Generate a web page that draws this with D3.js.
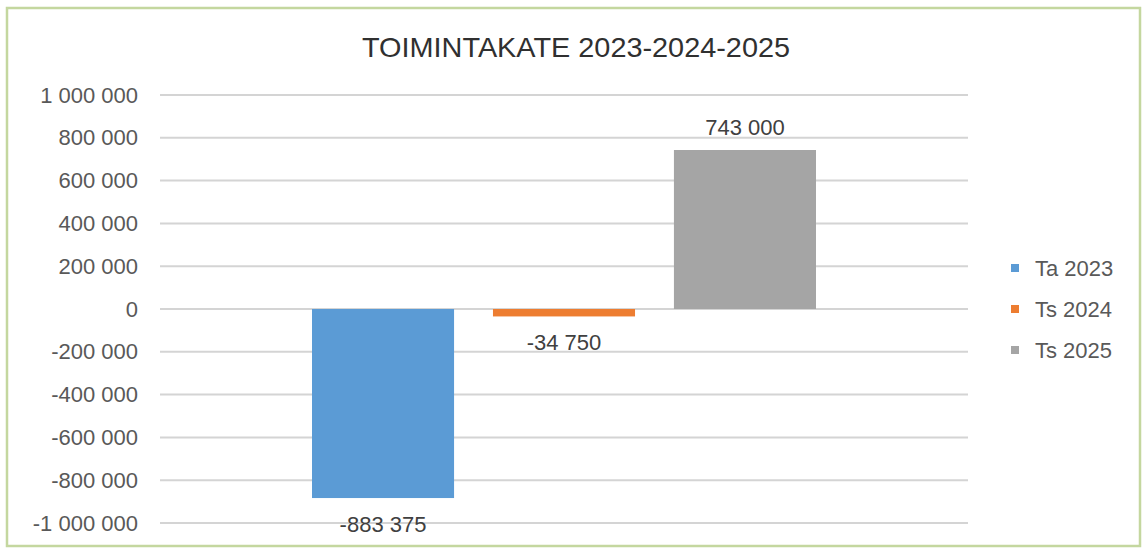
<!DOCTYPE html>
<html>
<head>
<meta charset="utf-8">
<script src="https://cdn.jsdelivr.net/npm/d3@7"></script>
<style>
  body { margin: 0; background: #fff; }
  text { font-family: "Liberation Sans", Arial, sans-serif; }
</style>
</head>
<body>
<svg id="chart"></svg>
<script>
// Chart data
const series = ["Ta 2023", "Ts 2024", "Ts 2025"]
const values = [-883375, -34750, 743000]
const labels = ["-883 375", "-34 750", "743 000"]
const colors = ["#5B9BD5", "#ED7D31", "#A5A5A5"]
const yTicks = [-1000000, -800000, -600000, -400000, -200000, 0, 200000, 400000, 600000, 800000, 1000000]
const title = "TOIMINTAKATE 2023-2024-2025"

// Size
var svgWidth = 1144, svgHeight = 551
var plotLeft = 160, plotRight = 968, plotTop = 95, plotBottom = 523

var svg = d3.select('#chart')
    .attr("width", svgWidth)
    .attr("height", svgHeight)

// outer frame
svg.append("rect")
    .attr("x", 7).attr("y", 8)
    .attr("width", 1133).attr("height", 538)
    .attr("fill", "#fff")
    .attr("stroke", "#c4d79f")
    .attr("stroke-width", 2.5)

// title
svg.append("text")
    .attr("x", 576).attr("y", 57)
    .attr("text-anchor", "middle")
    .attr("textLength", 428)
    .attr("lengthAdjust", "spacingAndGlyphs")
    .style("font-family", "'Liberation Sans Narrow', 'Liberation Sans', sans-serif")
    .style("font-size", "28px")
    .attr("fill", "#303030")
    .text(title)

var y = d3.scaleLinear()
    .domain([-1000000, 1000000])
    .range([plotBottom, plotTop])

var x = d3.scaleBand()
    .domain(series)
    .range([312, 816])
    .paddingInner(0.215)

// grid lines
svg.append("g").selectAll("line")
    .data(yTicks)
    .enter()
    .append("line")
    .attr("x1", plotLeft).attr("x2", plotRight)
    .attr("y1", d => y(d)).attr("y2", d => y(d))
    .attr("stroke", "#d4d4d4")
    .attr("stroke-width", 2)

// y axis
var fmt = (d) => d3.format(",")(d).replace(/,/g, " ").replace("\u2212", "-")
var yAxis = svg.append("g")
    .attr("transform", "translate(" + (plotLeft - 22) + ",0)")
    .call(d3.axisLeft(y).tickValues(yTicks).tickSize(0).tickPadding(0).tickFormat(fmt))
yAxis.select(".domain").remove()
yAxis.selectAll("text")
    .style("font-size", "22px")
    .style("font-family", "'Liberation Sans', Arial, sans-serif")
    .attr("fill", "#595959")

// bars
svg.append("g").selectAll("rect")
    .data(values)
    .enter()
    .append("rect")
    .attr("x", (d, i) => x(series[i]))
    .attr("width", x.bandwidth())
    .attr("y", d => Math.min(y(d), y(0)))
    .attr("height", d => Math.abs(y(d) - y(0)))
    .attr("fill", (d, i) => colors[i])

// data labels
svg.append("g").selectAll("text")
    .data(values)
    .enter()
    .append("text")
    .attr("x", (d, i) => x(series[i]) + x.bandwidth() / 2)
    .attr("y", d => d < 0 ? y(d) + 34 : y(d) - 15)
    .attr("text-anchor", "middle")
    .style("font-size", "22px")
    .attr("fill", "#404040")
    .text((d, i) => labels[i])

// legend
var legend = svg.append("g").selectAll("g")
    .data(series)
    .enter()
    .append("g")
    .attr("transform", (d, i) => "translate(1011," + (268 + i * 41) + ")")
legend.append("rect")
    .attr("x", 0).attr("y", -4)
    .attr("width", 8).attr("height", 8)
    .attr("fill", (d, i) => colors[i])
legend.append("text")
    .attr("x", 24).attr("y", 8)
    .style("font-size", "22px")
    .attr("fill", "#595959")
    .text(d => d)
</script>
</body>
</html>
